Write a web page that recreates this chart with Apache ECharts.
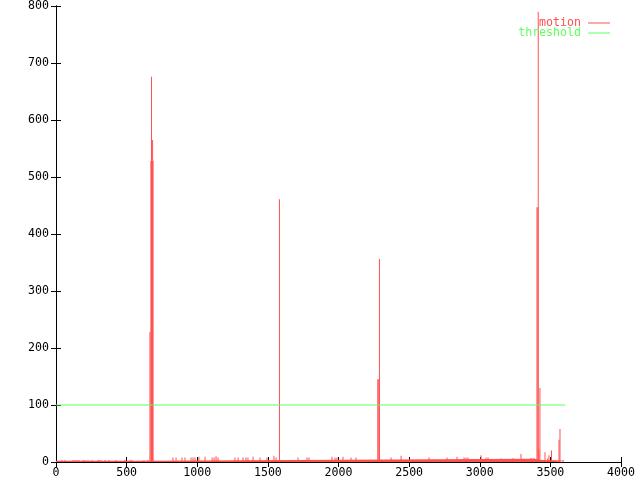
<!DOCTYPE html>
<html><head><meta charset="utf-8">
<script src="https://cdn.jsdelivr.net/npm/echarts@6/dist/echarts.min.js"></script>
<style>html,body{margin:0;padding:0;background:#fff}#c{width:640px;height:480px}</style>
</head><body><div id="c"></div>
<script>
// Baseline level of motion (outline points of the dense low band)
const baseX = [0, 662, 662, 3380, 3380, 3440, 3440, 3540, 3540, 3605];
const baseY = [2, 2, 5.5, 5.5, 3.5, 3.5, 3, 3, 2, 2];
// Motion impulses (x, value)
const spikeX = [42, 64, 120, 134, 149, 163, 191, 205, 226, 255, 297, 304, 319, 347, 375, 425, 488, 524, 538, 623, 651,
  665, 672, 676, 680, 684, 687,
  828, 850, 892, 913, 956, 970, 984, 1012, 1055, 1105, 1119, 1133, 1147, 1267, 1289, 1324, 1345, 1359, 1395, 1444, 1494, 1543, 1558,
  1582, 1713, 1777, 1791, 1954, 1975, 1989, 2032, 2088, 2124,
  2278, 2285, 2290, 2372, 2443, 2641, 2768, 2839, 2889, 2903, 2917, 3009, 3045, 3059, 3150, 3236, 3292, 3363, 3384,
  3405, 3412, 3414, 3419, 3426, 3462, 3480, 3490, 3508, 3561, 3568, 3590];
const spikeY = [3.5, 3.5, 3.5, 3.5, 3.5, 3.5, 3.5, 3.5, 3.5, 3.5, 3.5, 3.5, 3.5, 3.5, 3.5, 3.5, 3.5, 4, 3.5, 3.5, 3.5,
  228, 528, 676, 528, 565, 528,
  8, 8, 8, 8, 8, 8, 8, 9, 9, 8, 8, 10, 8, 8, 8, 8, 8, 8, 9, 8, 8, 11, 8,
  461, 8, 8, 8, 9, 8, 8, 9, 8, 8,
  145, 145, 356, 8, 11, 8, 8, 9, 8, 8, 8, 12, 8, 8, 6, 7, 14, 7, 7,
  447, 447, 790, 23, 130, 17, 6, 12, 20, 39, 58, 3];
// Threshold line
const thrX = [0, 3605];
const thrY = [100, 100];
const xTicks = [0, 4000, 500];
const yTicks = [0, 800, 100];

const RED = '#ff5050', GREEN = '#60ff60';
const FONT = 'DejaVu Sans Mono';
const FS = 11.6;
const chart = echarts.init(document.getElementById('c'), null, {renderer: 'canvas'});
const axBase = {
  axisLine: {show: true, lineStyle: {color: '#000', width: 1}},
  axisTick: {show: true, inside: true, length: 5, lineStyle: {color: '#000'}},
  splitLine: {show: false}
};
const plain = v => String(v);
chart.setOption({
  animation: false,
  backgroundColor: '#fff',
  grid: {left: 56, right: 19, top: 6, bottom: 18, containLabel: false},
  legend: {
    right: 30, top: 17, orient: 'vertical', align: 'right', padding: 0,
    itemWidth: 22, itemHeight: 1, itemGap: -2,
    textStyle: {fontFamily: FONT, fontSize: FS, lineHeight: 11, padding: [0, 2, 0, 0]},
    data: [
      {name: 'motion', icon: 'rect', itemStyle: {color: RED}, textStyle: {color: RED}},
      {name: 'threshold', icon: 'rect', itemStyle: {color: GREEN}, textStyle: {color: GREEN}}
    ]
  },
  xAxis: [
    Object.assign({type: 'value', min: xTicks[0], max: xTicks[1], interval: xTicks[2], position: 'bottom',
      axisLabel: {color: '#000', fontFamily: FONT, fontSize: FS, margin: 5, formatter: plain}}, axBase),
    Object.assign({type: 'value', min: xTicks[0], max: xTicks[1], interval: xTicks[2], position: 'top',
      axisLabel: {show: false}}, axBase)
  ],
  yAxis: [
    Object.assign({type: 'value', min: yTicks[0], max: yTicks[1], interval: yTicks[2], position: 'left',
      axisLabel: {color: '#000', fontFamily: FONT, fontSize: FS, margin: 7, formatter: plain}}, axBase),
    Object.assign({type: 'value', min: yTicks[0], max: yTicks[1], interval: yTicks[2], position: 'right',
      axisLabel: {show: false}}, axBase)
  ],
  series: [
    {name: 'motion', type: 'line', symbol: 'none', color: RED,
      lineStyle: {width: 0}, areaStyle: {color: RED, opacity: 1},
      data: baseX.map((x, i) => [x, baseY[i]]), z: 2},
    {name: 'motion', type: 'bar', color: RED, barWidth: 1,
      itemStyle: {color: RED}, data: spikeX.map((x, i) => [x, spikeY[i]]), z: 3},
    {name: 'threshold', type: 'line', symbol: 'none', color: GREEN,
      lineStyle: {color: GREEN, width: 1}, data: thrX.map((x, i) => [x, thrY[i]]), z: 4}
  ]
});
</script></body></html>
